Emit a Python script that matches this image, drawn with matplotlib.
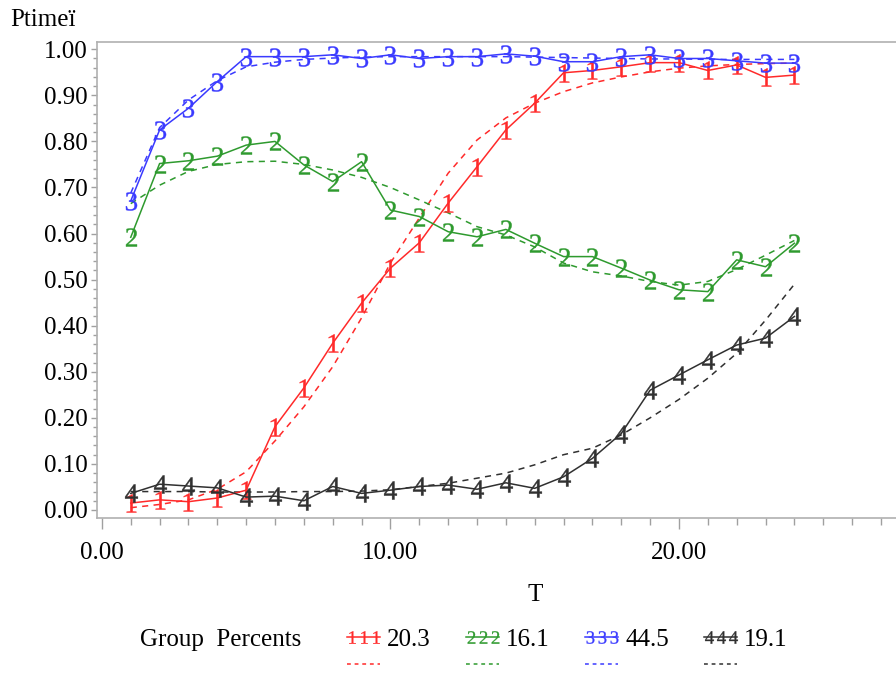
import matplotlib
matplotlib.use("Agg")
import matplotlib.pyplot as plt
from matplotlib.lines import Line2D
from matplotlib.ticker import MultipleLocator, FixedLocator, FixedFormatter

# ---------------- data ----------------
T = list(range(1, 25))

g1_obs = [0.015, 0.022, 0.018, 0.026, 0.043, 0.181, 0.265, 0.362, 0.449, 0.525,
          0.580, 0.666, 0.745, 0.825, 0.883, 0.949, 0.954, 0.962, 0.971, 0.971,
          0.954, 0.966, 0.939, 0.944]
g1_fit = [0.005, 0.012, 0.022, 0.045, 0.083, 0.150, 0.224, 0.311, 0.417, 0.536,
          0.634, 0.731, 0.803, 0.851, 0.883, 0.908, 0.927, 0.940, 0.951, 0.959,
          0.964, 0.967, 0.969, 0.970]

g2_obs = [0.592, 0.752, 0.758, 0.768, 0.792, 0.800, 0.749, 0.713, 0.756, 0.651,
          0.637, 0.604, 0.593, 0.609, 0.579, 0.550, 0.550, 0.525, 0.499, 0.478,
          0.474, 0.543, 0.528, 0.579]
g2_fit = [0.665, 0.705, 0.735, 0.750, 0.756, 0.757, 0.750, 0.738, 0.722, 0.700,
          0.673, 0.645, 0.615, 0.597, 0.571, 0.536, 0.517, 0.508, 0.496, 0.488,
          0.496, 0.522, 0.553, 0.585]

g3_obs = [0.671, 0.825, 0.872, 0.930, 0.984, 0.984, 0.984, 0.988, 0.980, 0.988,
          0.980, 0.984, 0.984, 0.990, 0.985, 0.973, 0.973, 0.984, 0.988, 0.980,
          0.980, 0.975, 0.970, 0.970]
g3_fit = [0.688, 0.830, 0.890, 0.932, 0.962, 0.972, 0.978, 0.981, 0.983, 0.984,
          0.984, 0.984, 0.984, 0.984, 0.983, 0.982, 0.981, 0.980, 0.979, 0.979,
          0.978, 0.978, 0.978, 0.978]

g4_obs = [0.036, 0.056, 0.052, 0.048, 0.028, 0.030, 0.020, 0.051, 0.036, 0.043,
          0.051, 0.054, 0.045, 0.059, 0.047, 0.072, 0.112, 0.166, 0.260, 0.293,
          0.326, 0.358, 0.373, 0.420]
g4_fit = [0.040, 0.040, 0.040, 0.039, 0.039, 0.039, 0.040, 0.040, 0.041, 0.044,
          0.051, 0.058, 0.069, 0.080, 0.098, 0.120, 0.134, 0.163, 0.200, 0.240,
          0.286, 0.340, 0.412, 0.490]

groups = ["1", "2", "3", "4"]
group_percents = ["20.3", "16.1", "44.5", "19.1"]
colors = ["#ff2a2a", "#2e9a2e", "#3a3aff", "#303030"]
observed = [g1_obs, g2_obs, g3_obs, g4_obs]
fitted = [g1_fit, g2_fit, g3_fit, g4_fit]

y_ticks = [0.0, 0.1, 0.2, 0.3, 0.4, 0.5, 0.6, 0.7, 0.8, 0.9, 1.0]
y_labels = ["0.00", "0.10", "0.20", "0.30", "0.40", "0.50", "0.60", "0.70",
            "0.80", "0.90", "1.00"]
x_ticks = [0, 10, 20]
x_labels = ["0.00", "10.00", "20.00"]

# ---------------- figure ----------------
W, H = 896, 673
plt.rcParams['font.family'] = ['Liberation Serif', 'DejaVu Serif']
fig = plt.figure(figsize=(W / 100, H / 100), dpi=100)

def fx(px):
    return px / W

def fy(py):
    return 1 - py / H

ax = fig.add_axes([fx(97), fy(518), fx(967.5) - fx(97), fy(42) - fy(518)])
ax.set_xlim(-0.17, 30)
ax.set_ylim(-0.0174, 1.0158)

for sp in ax.spines.values():
    sp.set_color("#b0b0b0")
    sp.set_linewidth(1.2)

dash = (0, (4, 3.5))
for g, c, obs, fit in zip(groups, colors, observed, fitted):
    ax.plot(T, fit, color=c, lw=1.1, linestyle=dash, zorder=2)
    ax.plot(T, obs, color=c, lw=1.1, marker=r"$\mathregular{%s}$" % g,
            markersize=13, markeredgewidth=0.3, markerfacecolor=c,
            markeredgecolor=c, zorder=3)

ax.yaxis.set_major_locator(FixedLocator(y_ticks))
ax.yaxis.set_major_formatter(FixedFormatter(y_labels))
ax.yaxis.set_minor_locator(MultipleLocator(0.02))
ax.xaxis.set_major_locator(FixedLocator(x_ticks))
ax.xaxis.set_major_formatter(FixedFormatter(x_labels))
ax.xaxis.set_minor_locator(MultipleLocator(1))

ax.tick_params(axis="both", which="both", direction="out", colors="#a0a0a0",
               labelcolor="black", labelsize=18)
ax.tick_params(axis="y", which="major", length=4, width=1, pad=3)
ax.tick_params(axis="y", which="minor", length=3, width=1)
ax.tick_params(axis="x", which="major", length=8, width=1, pad=9)
ax.tick_params(axis="x", which="minor", length=5, width=1)

ax.set_xlabel("T", fontsize=18)
ax.xaxis.set_label_coords((535 - 97) / (967.5 - 97), -((584 - 518) / (518 - 42)))

fig.text(fx(10), fy(20), "Ptimeï", fontsize=18, ha="left", va="center")

# ---------------- legend ----------------
fig.text(fx(140), fy(640), "Group  Percents", fontsize=18, ha="left", va="center")
x0s = [347, 466, 585, 704]
for g, c, pct, x0 in zip(groups, colors, group_percents, x0s):
    fig.add_artist(Line2D([fx(x0), fx(x0 + 33)], [fy(637), fy(637)],
                          transform=fig.transFigure, color=c, lw=1.1))
    fig.add_artist(Line2D([fx(x0 + 5), fx(x0 + 17), fx(x0 + 29)],
                          [fy(637)] * 3, transform=fig.transFigure, color=c,
                          lw=0, marker=r"$\mathregular{%s}$" % g, markersize=9,
                          markeredgewidth=0.2, markerfacecolor=c,
                          markeredgecolor=c))
    fig.text(fx(x0 + 40), fy(640), pct, fontsize=18, ha="left", va="center")
    fig.add_artist(Line2D([fx(x0), fx(x0 + 33)], [fy(664), fy(664)],
                          transform=fig.transFigure, color=c, lw=1.1,
                          linestyle=(0, (2.5, 2.5))))

fig.savefig("out.png", dpi=100)
